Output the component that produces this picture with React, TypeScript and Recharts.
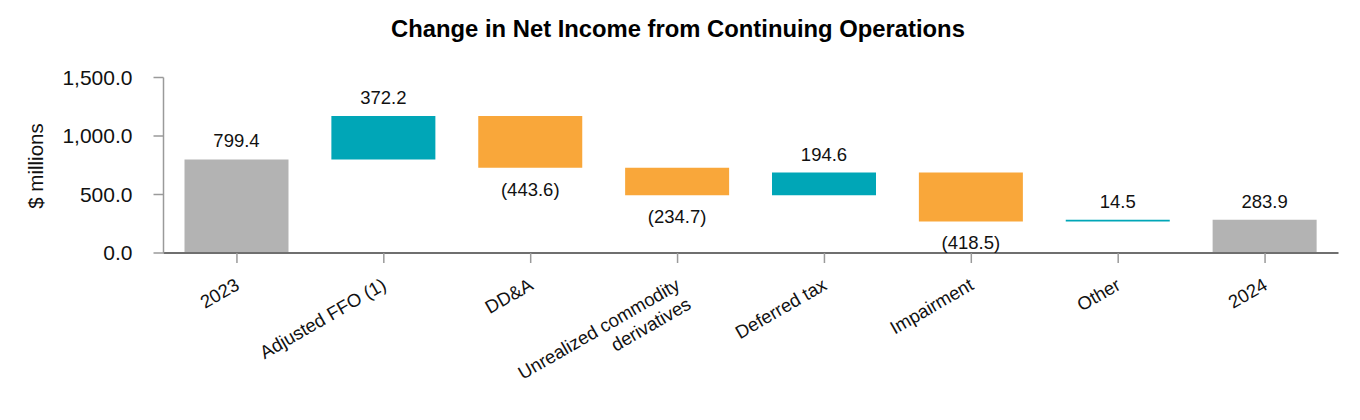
import React from 'react';
import { BarChart, Bar, XAxis, YAxis, Cell, LabelList } from 'recharts';

// Waterfall steps from 2023 to 2024 net income ($ millions)
const categories: string[] = [
  '2023',
  'Adjusted FFO (1)',
  'DD&A',
  'Unrealized commodity\nderivatives',
  'Deferred tax',
  'Impairment',
  'Other',
  '2024',
];
const changes: number[] = [799.4, 372.2, -443.6, -234.7, 194.6, -418.5, 14.5, 283.9];
const isTotal: boolean[] = [true, false, false, false, false, false, false, true];
const yTicks: number[] = [0, 500, 1000, 1500];

const COLOR_TOTAL = '#b3b3b3';
const COLOR_UP = '#00a6b7';
const COLOR_DOWN = '#f9a73a';
const FONT = '"Liberation Sans", Arial, Helvetica, sans-serif';

type Row = { name: string; base: number; size: number; change: number; total: boolean };

const rows: Row[] = (() => {
  let running = 0;
  return categories.map((name, i) => {
    const c = changes[i];
    if (isTotal[i]) {
      running = c;
      return { name, base: 0, size: c, change: c, total: true };
    }
    const start = running;
    const end = running + c;
    running = end;
    return { name, base: Math.min(start, end), size: Math.abs(c), change: c, total: false };
  });
})();

const fmtAxis = (v: number) =>
  v.toLocaleString('en-US', { minimumFractionDigits: 1, maximumFractionDigits: 1 });

const fmtLabel = (v: number) => (v < 0 ? `(${Math.abs(v).toFixed(1)})` : v.toFixed(1));

const CategoryTick = (props: any) => {
  const { x, y, payload } = props;
  const lines = String(payload.value).split('\n');
  return (
    <g transform={`translate(${x - 3},${y})`}>
      <text
        transform="rotate(-30)"
        textAnchor="end"
        fontSize={18.5}
        fontFamily={FONT}
        fill="#111"
      >
        {lines.map((line, i) => (
          <tspan key={i} x={0} dy={i === 0 ? '0.72em' : '1.2em'}>
            {line}
          </tspan>
        ))}
      </text>
    </g>
  );
};

const ValueLabel = (props: any) => {
  const { x, y, width, height, index } = props;
  const row = rows[index];
  if (!row) return null;
  const cx = x + width / 2;
  const below = row.change < 0;
  const ty = below ? y + height + 28 : y - 12;
  return (
    <text x={cx} y={ty} textAnchor="middle" fontSize={18.5} fontFamily={FONT} fill="#111">
      {fmtLabel(row.change)}
    </text>
  );
};

export default function App() {
  return (
    <div
      style={{
        position: 'absolute',
        left: 0,
        top: 0,
        width: 1360,
        height: 420,
        background: '#fff',
        fontFamily: FONT,
      }}
    >
      <div
        style={{
          position: 'absolute',
          left: 0,
          width: 1356,
          top: 15,
          textAlign: 'center',
          fontWeight: 'bold',
          fontSize: 23.8,
          color: '#000',
        }}
      >
        Change in Net Income from Continuing Operations
      </div>
      <div
        style={{
          position: 'absolute',
          left: 36,
          top: 166,
          transform: 'translate(-50%, -50%) rotate(-90deg)',
          whiteSpace: 'nowrap',
          fontSize: 20.5,
          color: '#111',
        }}
      >
        $ millions
      </div>
      <div style={{ position: 'absolute', left: 0, top: 0 }}>
        <BarChart
          width={1360}
          height={420}
          data={rows}
          margin={{ top: 77.5, right: 21.5, bottom: 0, left: 0 }}
          barSize={104}
        >
          <XAxis
            dataKey="name"
            interval={0}
            height={167}
            tick={<CategoryTick />}
            tickSize={10}
            tickMargin={14}
            axisLine={{ stroke: '#6f6f6f', strokeWidth: 2 }}
            tickLine={{ stroke: '#9a9a9a', strokeWidth: 1.5 }}
          />
          <YAxis
            width={163.5}
            domain={[0, 1500]}
            ticks={yTicks}
            tickFormatter={fmtAxis}
            tickSize={10}
            tickMargin={21}
            tick={{ fontSize: 21, fill: '#111', fontFamily: FONT }}
            axisLine={{ stroke: '#9a9a9a', strokeWidth: 1.5 }}
            tickLine={{ stroke: '#9a9a9a', strokeWidth: 1.5 }}
          />
          <Bar dataKey="base" stackId="w" fill="transparent" isAnimationActive={false} />
          <Bar dataKey="size" stackId="w" isAnimationActive={false}>
            {rows.map((r, i) => (
              <Cell
                key={i}
                fill={r.total ? COLOR_TOTAL : r.change >= 0 ? COLOR_UP : COLOR_DOWN}
              />
            ))}
            <LabelList dataKey="size" content={<ValueLabel />} />
          </Bar>
        </BarChart>
      </div>
    </div>
  );
}
